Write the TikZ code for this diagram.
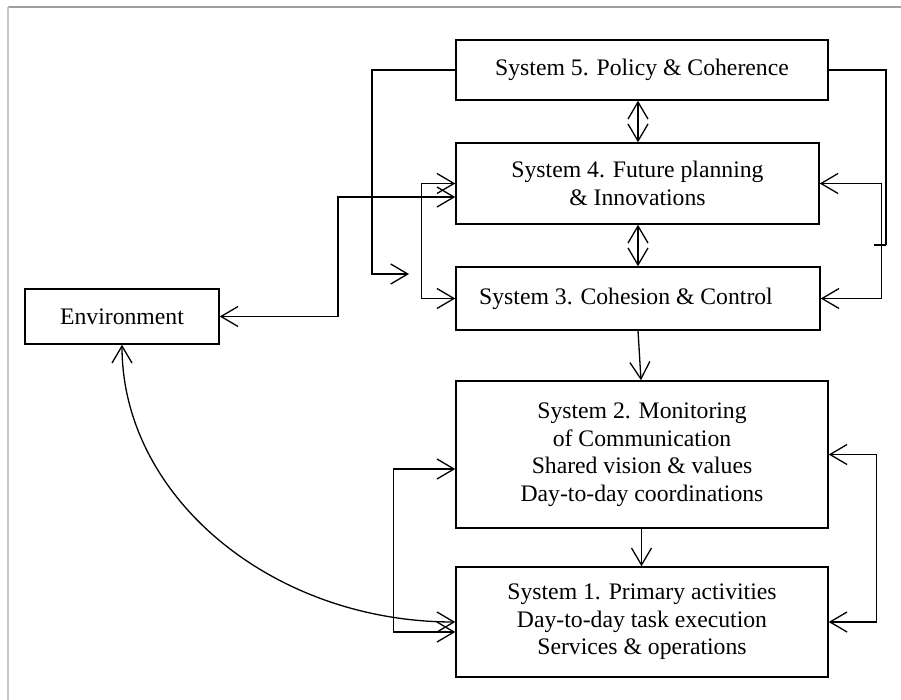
\documentclass[tikz,border=0pt]{standalone}
\usepackage{fontspec}
\setmainfont{Liberation Serif}
\usetikzlibrary{arrows.meta,calc}
\tikzset{
  box/.style={draw, line width=1.5pt, inner sep=0pt, align=center,
    font=\fontsize{23.7}{27.5}\selectfont},
  conn/.style={line width=1.3pt, line join=miter},
  >={Straight Barb[length=17pt,width=20pt]}
}
\begin{document}
\begin{tikzpicture}[x=1pt,y=-1pt]
\useasboundingbox (0,0) rectangle (901,700);
% frame
\draw[gray!75, line width=1.2pt] (8,7) -- (901,7);
\draw[gray!45, line width=1.5pt] (8,7) -- (8,700);
% boxes
\node[box, minimum width=194pt, minimum height=55pt] (env) at (122,316.5) {Environment};
\node[box, minimum width=372pt, minimum height=60pt] (s5) at (642,70) {System 5. Policy \& Coherence};
\node[box, minimum width=363pt, minimum height=81pt] (s4) at (637.5,183.5) {System 4. Future planning\\\& Innovations};
\node[box, minimum width=364pt, minimum height=63pt] (s3) at (638,298.5) {System 3. Cohesion \& Control\hspace*{24pt}};
\node[box, minimum width=372pt, minimum height=147pt] (s2) at (642,454.5) {System 2. Monitoring\\of Communication\\Shared vision \& values\\Day-to-day coordinations};
\node[box, minimum width=372pt, minimum height=110pt] (s1) at (642,622) {System 1. Primary activities\\Day-to-day task execution\\Services \& operations};
% free ends
\coordinate (free) at (409,274);
\coordinate (tick) at (886,245);
\coordinate (tickL) at (874,245);
% S5 left to free arrow
\draw[conn,->] (s5.west) -| (372,274) -- (free);
% S5 right down to tick
\draw[conn] (s5.east) -| (tick);
\draw[line width=2pt] (tickL) -- (tick);
% S4 / S3 right loop
\draw[conn,<->] (s4.east) -- ++(62,0) |- (s3.east);
% S4 / S3 left loop
\draw[conn,<->] (s4.west) -- ++(-34,0) |- (s3.west);
% Environment <-> S4
\draw[conn,<->] (env.east) -- (338,316.5) |- ($(s4.west)+(0,13.5)$);
% vertical links
\draw[conn,<->] (s5.south -| 638,0) -- (s4.north -| 638,0);
\draw[conn,<->] (s4.south -| 638,0) -- (s3.north -| 638,0);
\draw[conn,->] (s3.south -| 638,0) -- (s2.north -| 641,0);
\draw[conn,->] (s2.south -| 641.5,0) -- (s1.north -| 641.5,0);
% S2 / S1 left loop
\draw[conn,<->] ($(s2.west)+(0,14.5)$) -- ++(-62,0) |- ($(s1.west)+(0,10)$);
% S2 / S1 right loop
\draw[conn,<->] (s2.east) -- ++(48,0) |- (s1.east);
% Environment <-> S1 curve
\draw[conn,<->] (env.south) .. controls (122,497) and (272,622) .. (s1.west);
\end{tikzpicture}
\end{document}
